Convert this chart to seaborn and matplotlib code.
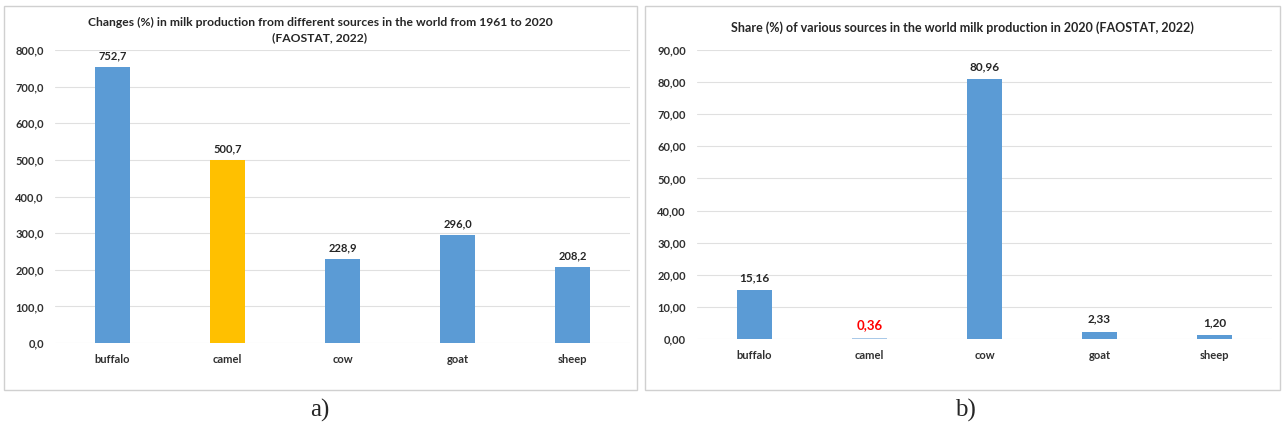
import numpy as np
import matplotlib
matplotlib.use('Agg')
import matplotlib.pyplot as plt
import seaborn as sns
from matplotlib.patches import Rectangle

# data
sources = ['buffalo', 'camel', 'cow', 'goat', 'sheep']
change_pct = [752.7, 500.7, 228.9, 296.0, 208.2]
share_pct = [15.16, 0.36, 80.96, 2.33, 1.20]

title_a = 'Changes (%) in milk production from different sources in the world from 1961 to 2020\n(FAOSTAT, 2022)'
title_b = 'Share (%) of various sources in the world milk production in 2020 (FAOSTAT, 2022)'

BLUE = '#5B9BD5'
LIGHT_BLUE = '#A9C9E8'
GOLD = '#FFC000'

sns.set_style('white')
plt.rcParams['font.family'] = ['Lato', 'DejaVu Sans']

fig = plt.figure(figsize=(12.83, 4.28), dpi=100)

# panel frames
for x0, w in [(4, 633), (645, 635)]:
    fig.patches.append(Rectangle((x0 / 1283, 1 - 390 / 428), w / 1283, 384 / 428,
                                 transform=fig.transFigure, fill=False,
                                 edgecolor='#D0D0D0', linewidth=1.0))

ax1 = fig.add_axes([55 / 1283, 1 - 343 / 428, 575 / 1283, 293 / 428])
ax2 = fig.add_axes([697 / 1283, 1 - 339 / 428, 575 / 1283, 289 / 428])


def fmt_comma(v, nd):
    return f'{v:.{nd}f}'.replace('.', ',')


def style_axis(ax, ymax, step, nd):
    ax.set_ylim(0, ymax)
    ticks = np.arange(0, ymax + step / 2, step)
    ax.set_yticks(ticks)
    ax.set_yticklabels([fmt_comma(t, nd) for t in ticks], fontsize=8, fontweight='bold',
                       color='#303030')
    ax.tick_params(axis='both', length=0, pad=8)
    for lbl in ax.get_xticklabels():
        lbl.set_fontsize(8)
        lbl.set_fontweight('bold')
        lbl.set_color('#303030')
    ax.yaxis.grid(True, color='#E0E0E0', linewidth=0.8)
    ax.set_axisbelow(True)
    for s in ax.spines.values():
        s.set_visible(False)
    ax.set_xlabel('')
    ax.set_ylabel('')


# panel a
pal_a = {s: (GOLD if s == 'camel' else BLUE) for s in sources}
sns.barplot(x=sources, y=change_pct, hue=sources, palette=pal_a, legend=False,
            width=0.31, saturation=1, linewidth=0, ax=ax1)
style_axis(ax1, 800, 100, 1)
for c in ax1.containers:
    ax1.bar_label(c, labels=[fmt_comma(v, 1) for v in c.datavalues], padding=4,
                  fontsize=8, fontweight='bold', color='#262626')
fig.text(320 / 1283, 1 - 30 / 428, title_a, ha='center', va='center', fontsize=8.7,
         fontweight='bold', color='#262626', linespacing=1.5)

# panel b
pal_b = {s: (LIGHT_BLUE if s == 'camel' else BLUE) for s in sources}
sns.barplot(x=sources, y=share_pct, hue=sources, palette=pal_b, legend=False,
            width=0.31, saturation=1, linewidth=0, ax=ax2)
style_axis(ax2, 90, 10, 2)
for c in ax2.containers:
    v = c.datavalues[0]
    red = abs(v - 0.36) < 1e-9
    ax2.bar_label(c, labels=[fmt_comma(v, 2)], padding=5,
                  fontsize=9.5 if red else 8.5, fontweight='bold',
                  color='#FF0000' if red else '#262626')
fig.text(962 / 1283, 1 - 28 / 428, title_b, ha='center', va='center', fontsize=9,
         fontweight='bold', color='#262626')

# sub-figure letters
fig.text(320 / 1283, 1 - 410 / 428, 'a)', ha='center', va='center', fontsize=18,
         family='Liberation Serif')
fig.text(965 / 1283, 1 - 410 / 428, 'b)', ha='center', va='center', fontsize=18,
         family='Liberation Serif')

fig.savefig('out.png', dpi=100)
